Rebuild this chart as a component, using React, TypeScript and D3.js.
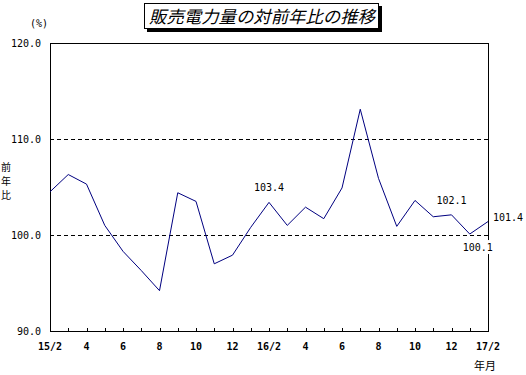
import React, { useRef, useEffect } from 'react'
import * as d3 from 'd3'

const months = ['15/2','3','4','5','6','7','8','9','10','11','12','1','16/2','3','4','5','6','7','8','9','10','11','12','1','17/2']
const values = [104.5,106.3,105.3,101.0,98.3,96.3,94.2,104.4,103.5,97.0,97.9,100.8,103.4,101.0,102.9,101.7,104.9,113.1,105.9,100.9,103.6,101.9,102.1,100.1,101.4]
const yTicks = [90, 100, 110, 120]
const gridLines = [100, 110]
const labelled = [
  { i: 12, text: '103.4', dx: 0, dy: -14 },
  { i: 22, text: '102.1', dx: 0, dy: -14 },
  { i: 23, text: '100.1', dx: 8, dy: 14 },
  { i: 24, text: '101.4', dx: 20, dy: -4 },
]

const App = () => {
  const svgRef = useRef<SVGSVGElement>(null)
  useEffect(() => {
    const w = 526
    const h = 375
    const svg = d3.select(svgRef.current)
      .attr('width', w)
      .attr('height', h)
      .style('display', 'block')
      .style('position', 'absolute')
      .style('left', 0)
      .style('top', 0)
      .style('background', '#fff')
    svg.selectAll('*').remove()

    const numFont = '"DejaVu Sans Mono", monospace'
    const jpFont = '"Noto Sans CJK JP", sans-serif'

    const x = d3.scaleLinear().domain([0, months.length - 1]).range([50, 488])
    const y = d3.scaleLinear().domain([90, 120]).range([331, 43])

    // title box
    svg.append('rect').attr('x', 147).attr('y', 6).attr('width', 235).attr('height', 26).attr('fill', '#000')
    svg.append('rect').attr('x', 144.5).attr('y', 3.5).attr('width', 234).attr('height', 25)
      .attr('fill', '#fff').attr('stroke', '#000').attr('stroke-width', 1)
    svg.append('text').attr('x', 262).attr('y', 23).attr('text-anchor', 'middle')
      .attr('font-family', jpFont).attr('font-size', 17).attr('font-style', 'italic')
      .attr('textLength', 226).attr('lengthAdjust', 'spacingAndGlyphs')
      .text('販売電力量の対前年比の推移')

    // gridlines
    svg.selectAll('.grid').data(gridLines).join('line')
      .attr('x1', 50).attr('x2', 488)
      .attr('y1', d => Math.round(y(d)) + 0.5).attr('y2', d => Math.round(y(d)) + 0.5)
      .attr('stroke', '#000').attr('stroke-dasharray', '4,3')

    // frame
    svg.append('rect').attr('x', 50.5).attr('y', 43.5).attr('width', 438).attr('height', 288)
      .attr('fill', 'none').attr('stroke', '#000').attr('stroke-width', 1)

    // x ticks
    svg.selectAll('.xt').data(months).join('line')
      .attr('x1', (d, i) => Math.round(x(i)) + 0.5).attr('x2', (d, i) => Math.round(x(i)) + 0.5)
      .attr('y1', 331).attr('y2', 328).attr('stroke', '#000')

    // y labels
    svg.selectAll('.yl').data(yTicks).join('text')
      .attr('x', 41).attr('y', d => y(d) + 4).attr('text-anchor', 'end')
      .attr('font-family', numFont).attr('font-size', 10)
      .text(d => d.toFixed(1))

    // x labels
    svg.selectAll('.xl').data(months).join('text')
      .filter((d, i) => i % 2 === 0)
      .attr('x', (d, i) => x(i * 2))
      .attr('y', 350).attr('text-anchor', 'middle')
      .attr('font-family', numFont).attr('font-size', 10).attr('font-weight', 'bold')
      .text(d => d)

    svg.append('text').attr('x', 39).attr('y', 27).attr('text-anchor', 'middle')
      .attr('font-family', numFont).attr('font-size', 10).text('(%)')
    ;['前', '年', '比'].forEach((c, k) => {
      svg.append('text').attr('x', 6).attr('y', 171 + k * 14).attr('text-anchor', 'middle')
        .attr('font-family', jpFont).attr('font-size', 10).text(c)
    })
    svg.append('text').attr('x', 485).attr('y', 370).attr('text-anchor', 'middle')
      .attr('font-family', jpFont).attr('font-size', 11).text('年月')

    // line
    const line = d3.line<number>().x((d, i) => x(i)).y(d => y(d))
    svg.append('path').datum(values).attr('d', line)
      .attr('fill', 'none').attr('stroke', '#000080').attr('stroke-width', 1)

    // data labels
    const lg = svg.selectAll('.dl').data(labelled).join('g')
      .attr('transform', d => `translate(${x(d.i) + d.dx},${y(values[d.i]) + d.dy})`)
    lg.filter(d => d.i === 23).append('rect').attr('x', -16).attr('y', -8).attr('width', 32).attr('height', 14)
      .attr('fill', '#fff')
    lg.append('text').attr('text-anchor', 'middle').attr('y', 3)
      .attr('font-family', numFont).attr('font-size', 10).text(d => d.text)
  }, [])
  return <svg ref={svgRef}></svg>
}

export default App
